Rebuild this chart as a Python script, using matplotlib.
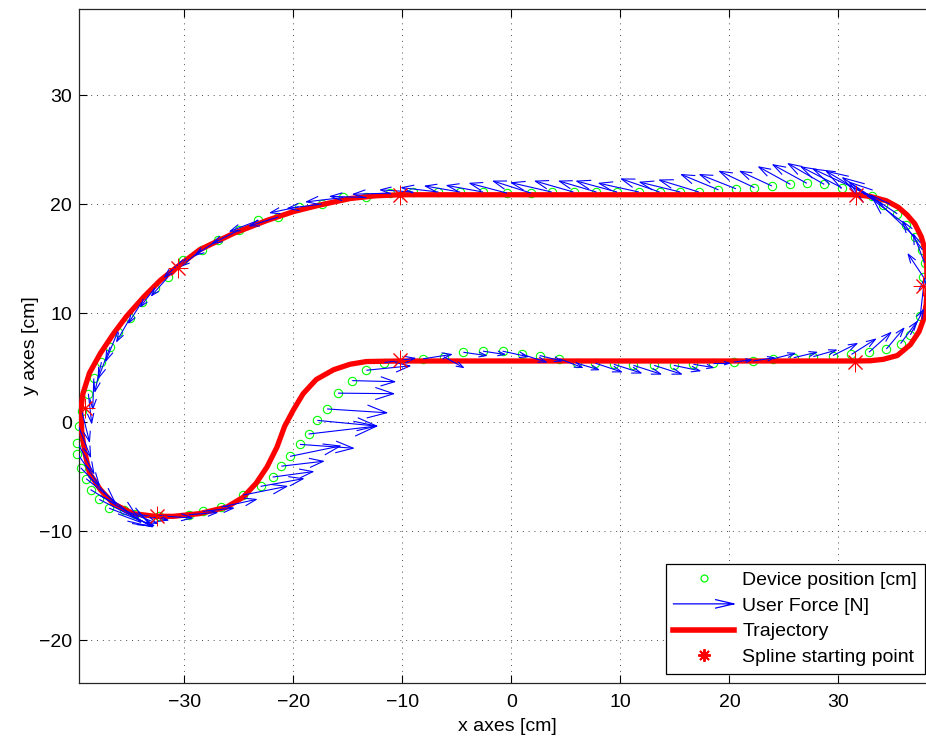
import numpy as np
import matplotlib
matplotlib.use("Agg")
import matplotlib.pyplot as plt
from matplotlib.collections import LineCollection
from matplotlib.legend_handler import HandlerBase
from matplotlib.lines import Line2D

plt.rcParams['font.family'] = ['Liberation Sans', 'DejaVu Sans']
plt.rcParams['font.size'] = 14

# reference trajectory (red)
traj_x = [-10.2, 31.6, 32.9, 34.4, 35.5, 36.3, 37.0, 37.6, 37.95, 38.1, 38.15, 38.05, 37.8, 37.4,
          36.6, 35.4, 34.1, 32.9, 31.5, -10.2, -13.3, -14.8, -16.3, -17.9, -19.1, -20.0, -20.8,
          -21.5, -22.4, -23.4, -24.6, -26.1, -28.6, -31.0, -32.7, -34.7, -36.5, -37.7, -38.7,
          -39.1, -39.4, -39.5, -39.3, -38.7, -37.7, -36.5, -35.3, -33.7, -32.2, -30.7, -28.6,
          -25.5, -22.4, -20.0, -17.6, -14.8, -12.5, -10.2]
traj_y = [20.85, 20.85, 20.7, 20.3, 19.7, 19.0, 18.2, 17.0, 15.8, 14.2, 12.5, 10.8, 9.4, 8.3,
          7.1, 6.1, 5.75, 5.62, 5.6, 5.6, 5.55, 5.3, 4.8, 3.9, 2.6, 1.1, -0.4,
          -2.3, -4.1, -5.6, -6.9, -7.8, -8.4, -8.65, -8.65, -8.4, -7.5, -6.2, -4.7,
          -2.9, -1.0, 1.1, 2.6, 4.5, 6.3, 8.1, 9.7, 11.5, 13.0, 14.2, 15.8,
          17.3, 18.5, 19.3, 19.9, 20.5, 20.75, 20.85]

# spline starting points
spline_x = [-10.2, 31.6, 37.8, 31.5, -10.2, -32.5, -39.1, -30.6]
spline_y = [20.85, 20.85, 12.5, 5.5, 5.7, -8.6, 1.3, 14.1]

# device positions (green) and user force arrows (blue, drawn length in cm)
dev_x = [-32.3, -29.6, -28.3, -26.6, -24.6, -23.0, -21.9, -21.1, -20.3, -19.4, -18.6, -17.8,
         -16.9, -15.9, -14.6, -13.3, -11.65,
         -8.1, -6.2, -4.4, -2.6, -0.8, 1.0, 2.6, 4.4, 6.0, 7.7, 9.4, 11.2, 13.1, 14.9, 16.7,
         18.5, 20.4, 22.2, 24.0, 25.9, 27.7, 29.5, 31.2, 32.8, 34.4, 35.7, 36.6, 37.5,
         37.8, 37.9, 37.7, 37.0, 36.2, 35.4, 34.1, 33.1,
         30.3, 28.7, 27.1, 25.6, 23.9, 22.3, 20.6, 19.0, 17.2, 15.5, 13.6, 11.7, 9.7, 7.8,
         5.7, 3.7, 1.8, -0.4, -2.6, -4.7, -6.7, -9.0,
         -11.1, -13.3, -15.4, -17.4, -19.5, -21.4, -23.2, -25.0, -26.9, -28.4, -30.1, -31.5,
         -32.7, -33.9, -35.0, -36.1, -36.8, -37.6, -38.3, -38.8, -39.4, -39.7, -39.8, -39.8,
         -39.5, -39.0, -38.6, -37.8, -36.9, -35.5, -34.5]
dev_y = [-8.6, -8.5, -8.2, -7.8, -6.7, -5.9, -5.05, -4.05, -3.15, -2.05, -1.1, 0.15,
         1.2, 2.65, 3.8, 4.75, 5.45,
         5.8, 6.0, 6.4, 6.5, 6.5, 6.2, 6.1, 5.8, 5.4, 5.4, 5.3, 5.2, 5.2, 5.2, 5.3,
         5.4, 5.5, 5.6, 5.8, 5.9, 6.0, 6.1, 6.2, 6.4, 6.7, 7.2, 8.0, 9.7,
         13.3, 14.6, 15.8, 17.0, 18.1, 19.1, 19.9, 20.7,
         21.5, 21.8, 21.9, 21.8, 21.65, 21.5, 21.4, 21.3, 21.1, 21.1, 21.1, 21.1, 21.1, 21.1,
         21.1, 21.1, 21.0, 21.0, 21.1, 21.1, 21.1, 21.1,
         21.0, 20.6, 20.6, 20.0, 19.75, 18.8, 18.5, 17.6, 16.7, 15.8, 14.9, 13.3,
         12.3, 11.0, 9.5, 8.3, 6.9, 5.5, 4.0, 2.6, 1.0, -0.4, -1.9, -2.9,
         -4.2, -5.2, -6.2, -7.1, -7.9, -8.1, -8.4]
force_u = [3.0, 2.6, 2.8, 3.2, 4.0, 3.9, 3.7, 3.85, 4.6, 4.9, 6.25, 5.45,
           5.47, 5.1, 3.9, 4.0, 2.8,
           2.6, 1.8, 2.1, 2.0, 2.3, 2.2, 2.0, 2.1, 2.0, 2.4, 2.5, 2.5, 2.5, 2.4, 1.8,
           1.5, 1.6, 1.9, 2.0, 2.1, 2.1, 2.2, 2.2, 2.0, 1.6, 1.5, 1.2, 0.4,
           -1.4, -1.0, -1.8, -4.0, -5.2, -5.0, -5.2, -5.4,
           -3.7, -3.3, -3.1, -2.9, -2.9, -3.2, -3.3, -3.4, -3.6, -3.7, -3.5, -3.65, -3.7, -3.4,
           -3.5, -3.7, -3.45, -3.4, -3.3, -3.2, -3.35, -3.0,
           -3.4, -3.3, -3.4, -3.1, -2.6, -2.6, -2.6, -2.4, -2.1, -1.9, -1.7, -1.5,
           -1.3, -1.2, -1.2, -1.1, -1.1, -0.6, -0.1, 0.3, 0.7, 1.1, 1.5, 2.0,
           3.2, 5.0, 5.6, 4.9, 4.1, 3.0, 3.0]
force_v = [-0.2, 0.2, 0.3, 0.7, 0.8, 0.7, 0.5, 0.45, 0.95, -0.35, 0.73, -0.52,
           -0.35, -0.05, -0.1, 0.4, 0.4,
           0.4, -1.0, -0.3, -0.3, -0.5, -0.7, -0.5, -0.8, -0.6, -0.8, -0.8, -0.8, -0.8, -0.5, -0.3,
           0.0, 0.2, 0.3, 0.5, 0.5, 0.6, 1.1, 1.4, 1.8, 1.9, 2.0, 2.3, 3.5,
           2.1, 2.6, 2.6, 3.8, 3.9, 3.3, 3.1, 2.5,
           1.9, 1.9, 1.7, 1.6, 1.35, 1.5, 1.3, 1.4, 1.1, 0.9, 1.2, 0.8, 1.0, 1.0,
           1.0, 0.85, 1.1, 0.9, 0.6, 0.55, 0.4, 0.2,
           -0.1, 0.1, -0.4, -0.4, -0.55, -0.8, -1.0, -1.2, -1.4, -1.5, -1.6, -1.7,
           -1.7, -1.9, -2.1, -2.7, -2.9, -2.7, -2.8, -2.7, -2.8, -2.8, -2.8, -2.9,
           -3.3, -4.0, -3.4, -2.5, -1.6, -1.2, -0.6]

x_ticks = [-30, -20, -10, 0, 10, 20, 30]
y_ticks = [-20, -10, 0, 10, 20, 30]


def quiver_segments(x, y, u, v, alpha=0.33, beta=0.33):
    """MATLAB-style open arrows: shaft + two head strokes."""
    x, y, u, v = map(np.asarray, (x, y, u, v))
    tx, ty = x + u, y + v
    segs = []
    for i in range(len(x)):
        segs.append([(x[i], y[i]), (tx[i], ty[i])])
        segs.append([(tx[i] - alpha * (u[i] + beta * v[i]), ty[i] - alpha * (v[i] - beta * u[i])),
                     (tx[i], ty[i]),
                     (tx[i] - alpha * (u[i] - beta * v[i]), ty[i] - alpha * (v[i] + beta * u[i]))])
    return segs


class HandlerArrow(HandlerBase):
    def create_artists(self, legend, orig, xd, yd, w, h, fs, trans):
        y = h / 2 - yd
        x0, x1 = -xd, w - xd
        hl, hw = 0.3 * (x1 - x0), 0.07 * (x1 - x0)
        ln = Line2D([x0, x1, np.nan, x1 - hl, x1, x1 - hl], [y, y, np.nan, y + hw, y, y - hw],
                    color=orig.get_color(), lw=orig.get_linewidth(), transform=trans)
        return [ln]


fig = plt.figure(figsize=(9.26, 7.37), dpi=100)
ax = fig.add_axes([79 / 926, (737 - 683) / 737, (935 - 79) / 926, (683 - 9) / 737])

ax.plot(dev_x, dev_y, 'o', ls='none', mfc='none', mec=(0, 1, 0), ms=6, mew=0.8, zorder=2, clip_on=False)
ax.plot(traj_x, traj_y, color='red', lw=3.8, zorder=3, solid_joinstyle='round')
ax.add_collection(LineCollection(quiver_segments(dev_x, dev_y, force_u, force_v),
                                 colors='blue', linewidths=0.8, zorder=4))
ax.plot(spline_x, spline_y, ls='none', marker=(8, 2, 0), color='red', ms=14, mew=0.7, zorder=5)

ax.set_xlim(-39.66, 38.86)
ax.set_ylim(-23.94, 37.89)
ax.set_xticks(x_ticks)
ax.set_yticks(y_ticks)
ax.tick_params(direction='in', top=True, right=True, length=6, width=0.8, labelsize=14)
ax.tick_params(axis='x', pad=8)
ax.tick_params(axis='y', pad=5)
ax.grid(True, ls=(0, (1, 5)), color='0.3', lw=0.7)
for s in ax.spines.values():
    s.set_linewidth(0.9)
    s.set_color('0.15')
ax.set_xlabel('x axes [cm]', labelpad=5)
ax.set_ylabel('y axes [cm]', labelpad=0)

h_dev = Line2D([], [], ls='none', marker='o', mfc='none', mec=(0, 1, 0), ms=5, mew=0.9)
h_force = Line2D([], [], color='blue', lw=0.9)
h_traj = Line2D([], [], color='red', lw=4)
h_spline = Line2D([], [], ls='none', marker=(8, 2, 0), color='red', ms=9, mew=1.4)
leg = ax.legend([h_dev, h_force, h_traj, h_spline],
                ['Device position [cm]', 'User Force [N]', 'Trajectory', 'Spline starting point'],
                handler_map={h_force: HandlerArrow()},
                loc='lower right', bbox_to_anchor=(925 / 926, (737 - 674) / 737),
                bbox_transform=fig.transFigure, borderaxespad=0, fancybox=False,
                edgecolor='black', framealpha=1, handlelength=3.1, handletextpad=0.45,
                labelspacing=0.42, borderpad=0.4, fontsize=14)
leg.get_frame().set_linewidth(0.9)

fig.savefig('out.png', dpi=100)
